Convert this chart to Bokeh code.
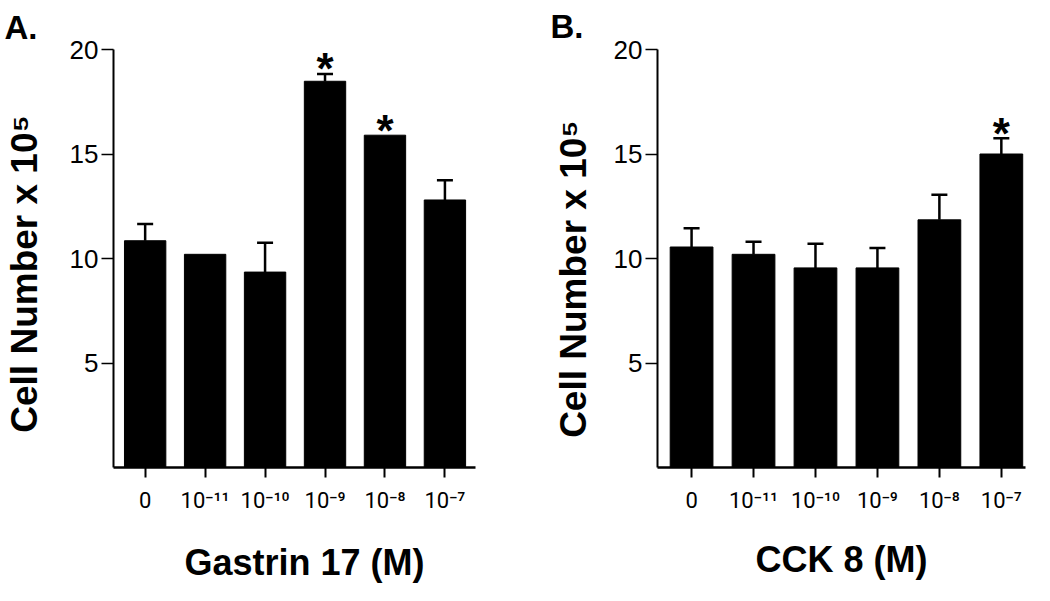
from bokeh.plotting import figure
from bokeh.models import ColumnDataSource, Whisker, TeeHead, FixedTicker, Range1d, Title
from bokeh.layouts import row
from bokeh.embed import file_html
from bokeh.resources import INLINE
from bokeh.core.properties import value

# ---------------- data ----------------
concentrations = ["0", "10\u207b\u00b9\u00b9", "10\u207b\u00b9\u2070", "10\u207b\u2079", "10\u207b\u2078", "10\u207b\u2077"]
gastrin_mean = [10.85, 10.2, 9.35, 18.48, 15.9, 12.8]
gastrin_sem = [0.8, 0.0, 1.4, 0.35, 0.0, 0.95]
gastrin_sig = ["", "", "", "*", "*", ""]
cck_mean = [10.55, 10.2, 9.55, 9.55, 11.85, 15.0]
cck_sem = [0.9, 0.6, 1.15, 0.95, 1.2, 0.75]
cck_sig = ["", "", "", "", "", "*"]
y_ticks = [5, 10, 15, 20]
y_title = "Cell Number x 10\u2075"

FONT = "Liberation Sans"
TICKFONT = "Roboto, DejaVu Sans"


def make_panel(width, height, b_left, b_right, b_top, b_bottom, x_start, x_end,
               means, sems, sigs, xlabel, letter, letter_offset, letter_standoff,
               ylab_standoff, xlab_standoff, xpad, ypad):
    xs = list(range(1, len(means) + 1))
    p = figure(width=width, height=height, output_backend="svg", toolbar_location=None,
               x_range=Range1d(x_start, x_end), y_range=Range1d(0, 20),
               min_border_left=b_left, min_border_right=b_right,
               min_border_top=b_top, min_border_bottom=b_bottom)
    p.outline_line_color = None
    p.grid.visible = False
    p.background_fill_color = "white"
    p.border_fill_color = "white"

    p.title = Title(text=letter, align="left", offset=letter_offset, standoff=letter_standoff,
                    text_font=FONT, text_font_style="bold", text_font_size="33px",
                    text_color="black")

    src = ColumnDataSource(dict(x=xs, top=means))
    p.vbar(x="x", top="top", width=0.69, source=src, fill_color="black", line_color="black")

    ex = [x for x, s in zip(xs, sems) if s > 0]
    em = [m for m, s in zip(means, sems) if s > 0]
    eu = [m + s for m, s in zip(means, sems) if s > 0]
    esrc = ColumnDataSource(dict(x=ex, base=em, upper=eu))
    w = Whisker(base="x", lower="base", upper="upper", dimension="height", source=esrc,
                line_color="black", line_width=2.5,
                upper_head=TeeHead(size=16, line_color="black", line_width=2.5),
                lower_head=None)
    p.add_layout(w)

    sx = [x for x, s in zip(xs, sigs) if s]
    sy = [m + e for m, e, s in zip(means, sems, sigs) if s]
    st = [s for s in sigs if s]
    ssrc = ColumnDataSource(dict(x=sx, y=sy, t=st))
    p.text(x="x", y="y", text="t", source=ssrc, text_align="center", text_baseline="alphabetic",
           y_offset=-5, text_font=value(FONT), text_font_style="bold",
           text_font_size="44px", text_color="black")

    # y axis
    ya = p.yaxis[0]
    ya.ticker = FixedTicker(ticks=y_ticks)
    ya.minor_tick_line_color = None
    ya.major_tick_in = 0
    ya.major_tick_out = 12
    ya.major_tick_line_width = 1.5
    ya.axis_line_width = 2
    ya.major_label_text_font = FONT
    ya.major_label_text_font_size = "26px"
    ya.major_label_text_color = "black"
    ya.major_label_standoff = 3
    ya.axis_label = y_title + "\u00a0" * ypad
    ya.axis_label_text_font = FONT
    ya.axis_label_text_font_style = "bold"
    ya.axis_label_text_font_size = "37px"
    ya.axis_label_text_color = "black"
    ya.axis_label_standoff = ylab_standoff

    # x axis
    xa = p.xaxis[0]
    xa.ticker = FixedTicker(ticks=xs)
    xa.major_label_overrides = {x: lab for x, lab in zip(xs, concentrations)}
    xa.minor_tick_line_color = None
    xa.major_tick_in = 0
    xa.major_tick_out = 10
    xa.major_tick_line_width = 2
    xa.axis_line_width = 2.5
    xa.major_label_text_font = TICKFONT
    xa.major_label_text_font_size = "22px"
    xa.major_label_text_color = "black"
    xa.major_label_standoff = 10
    xa.axis_label = "\u00a0" * xpad + xlabel
    xa.axis_label_text_font = FONT
    xa.axis_label_text_font_style = "bold"
    xa.axis_label_text_font_size = "36px"
    xa.axis_label_text_color = "black"
    xa.axis_label_standoff = xlab_standoff
    return p


pA = make_panel(520, 585, 109, 45, 42, 118, 0.472, 6.51,
                gastrin_mean, gastrin_sem, gastrin_sig, "Gastrin 17 (M)", "A.", -109, 7, 22,
                26, 2, 3)
pB = make_panel(514, 585, 137, 9, 45, 115, 0.45, 6.39,
                cck_mean, cck_sem, cck_sig, "CCK 8 (M)", "B.", -107, 10, 17,
                23, 0, 4)

layout = row(pA, pB)
open("out.html", "w").write(file_html(layout, INLINE))
